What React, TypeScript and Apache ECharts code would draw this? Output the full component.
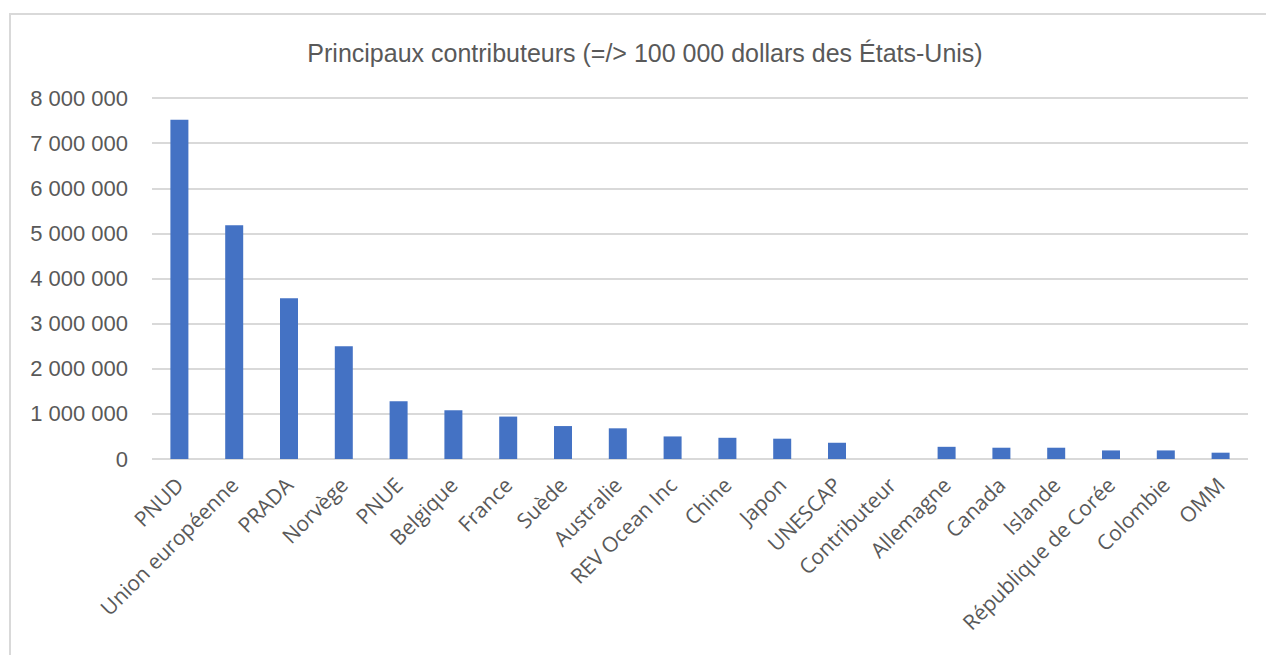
import React, { useEffect, useRef } from "react";
import * as echarts from "echarts";

const titleText = "Principaux contributeurs (=/> 100 000 dollars des États-Unis)";
const categories = [
  "PNUD", "Union européenne", "PRADA", "Norvège", "PNUE", "Belgique", "France", "Suède",
  "Australie", "REV Ocean Inc", "Chine", "Japon", "UNESCAP", "Contributeur", "Allemagne",
  "Canada", "Islande", "République de Corée", "Colombie", "OMM",
];
const values = [
  7520000, 5180000, 3560000, 2500000, 1280000, 1080000, 940000, 730000,
  680000, 500000, 470000, 450000, 360000, 0, 270000,
  250000, 250000, 190000, 190000, 140000,
];
const yMax = 8000000;
const yInterval = 1000000;

function fmt(v: number): string {
  return String(Math.round(v)).replace(/\B(?=(\d{3})+(?!\d))/g, " ");
}

export default function App() {
  const ref = useRef<HTMLDivElement>(null);
  useEffect(() => {
    document.body.style.margin = "0";
    const chart = echarts.init(ref.current!, null, { renderer: "svg" });
    chart.setOption({
      animation: false,
      backgroundColor: "#ffffff",
      title: {
        text: titleText,
        left: 640,
        textAlign: "center",
        top: 35,
        textStyle: {
          fontFamily: "Liberation Sans, Arial, sans-serif",
          fontSize: 25,
          fontWeight: "normal",
          color: "#595959",
        },
      },
      graphic: [
        {
          type: "rect",
          shape: { x: 10, y: 14, width: 1400, height: 800 },
          style: { fill: "none", stroke: "#d9d9d9", lineWidth: 2 },
          silent: true,
        },
      ],
      grid: { left: 152, right: 18, top: 98, bottom: 196 },
      xAxis: {
        type: "category",
        data: categories,
        axisTick: { show: false },
        axisLine: { show: false },
        axisLabel: {
          rotate: 45,
          interval: 0,
          margin: 22,
          fontFamily: "Open Sans, sans-serif",
          fontSize: 21,
          color: "#595959",
        },
      },
      yAxis: {
        type: "value",
        min: 0,
        max: yMax,
        interval: yInterval,
        axisLine: { show: false },
        axisTick: { show: false },
        splitLine: { lineStyle: { color: "#d9d9d9", width: 2 } },
        axisLabel: {
          formatter: (v: number) => fmt(v),
          margin: 24,
          fontFamily: "Liberation Sans, Arial, sans-serif",
          fontSize: 22,
          color: "#595959",
        },
      },
      series: [
        {
          type: "bar",
          data: values,
          barWidth: 18,
          itemStyle: { color: "#4472C4" },
        },
      ],
    });
    return () => chart.dispose();
  }, []);
  return <div ref={ref} style={{ width: 1266, height: 655 }} />;
}
